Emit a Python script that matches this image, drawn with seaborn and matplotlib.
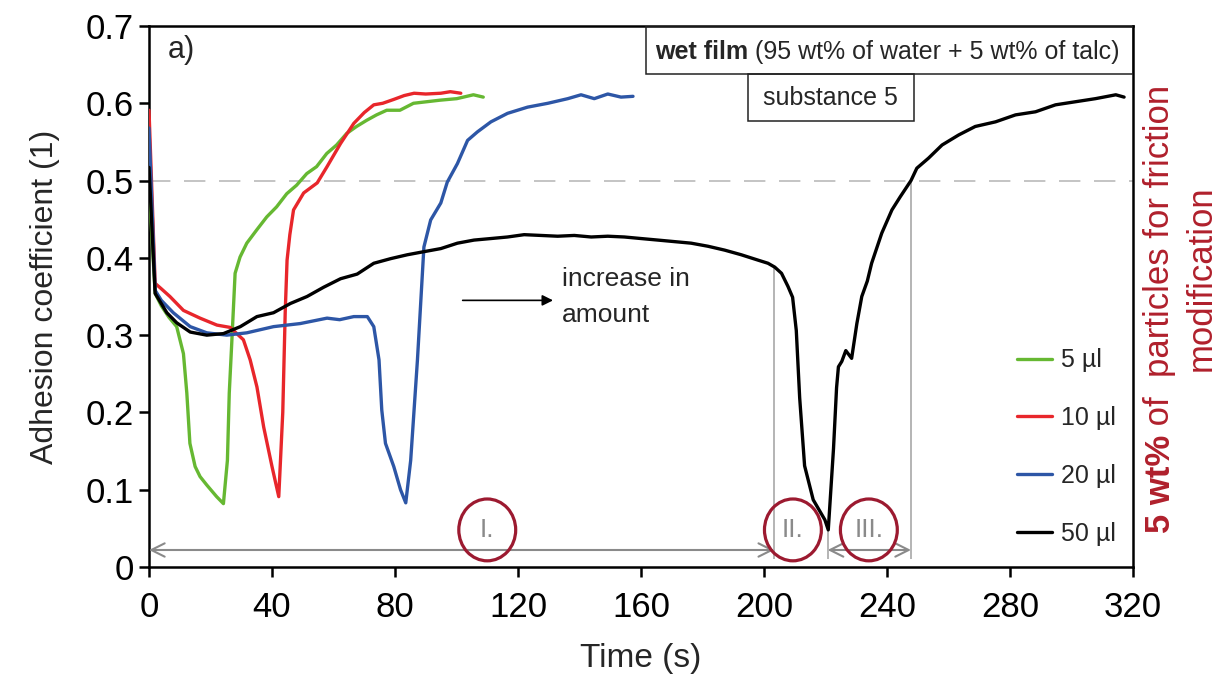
import numpy as np
import pandas as pd
import matplotlib
matplotlib.use("Agg")
import matplotlib.pyplot as plt
from matplotlib.patches import Ellipse, Rectangle
from matplotlib.text import Annotation
from matplotlib import font_manager
import seaborn as sns

# ---- measured friction curves: time (s) and adhesion coefficient (1) ----
t_5 = [0, 0.9, 2.0, 4.0, 6.5, 9.0, 11.2, 12.3, 13.3, 15.0, 16.6, 18.8, 22.0, 24.2,
       25.5, 26.1, 26.9, 28.0, 29.6, 31.8, 35.0, 38.3, 41.5, 44.8, 48.0, 51.3, 54.5,
       57.8, 61.0, 64.3, 67.5, 70.8, 74.0, 77.3, 81.6, 86.0, 90.3, 94.6, 100.1, 105.5, 108.7]
v_5 = [0.50, 0.43, 0.354, 0.338, 0.323, 0.311, 0.276, 0.225, 0.160, 0.130, 0.117, 0.106,
       0.091, 0.082, 0.138, 0.225, 0.289, 0.380, 0.401, 0.419, 0.436, 0.453, 0.466, 0.483,
       0.494, 0.509, 0.518, 0.535, 0.546, 0.561, 0.570, 0.578, 0.585, 0.591, 0.591, 0.600,
       0.602, 0.604, 0.606, 0.611, 0.608]

t_10 = [0, 2.0, 4.0, 6.8, 11.2, 16.6, 22.1, 26.4, 30.7, 32.9, 35.1, 37.3, 40.0, 42.2,
        43.5, 44.3, 44.9, 45.8, 47.0, 50.3, 54.7, 57.9, 62.3, 66.6, 70.0, 73.1, 76.0,
        79.6, 83.0, 86.2, 90.0, 94.9, 98.0, 101.4]
v_10 = [0.591, 0.367, 0.360, 0.350, 0.332, 0.322, 0.313, 0.310, 0.294, 0.268, 0.233, 0.181,
        0.130, 0.091, 0.200, 0.330, 0.397, 0.430, 0.462, 0.484, 0.497, 0.518, 0.548, 0.574,
        0.588, 0.598, 0.600, 0.605, 0.610, 0.613, 0.612, 0.613, 0.615, 0.613]

t_20 = [0, 2.0, 4.0, 7.9, 13.4, 18.8, 25.3, 31.8, 40.5, 49.2, 57.9, 62.0, 66.6, 71.0,
        73.1, 74.8, 75.7, 76.9, 79.6, 81.8, 83.5, 85.1, 87.3, 89.4, 91.6, 94.9, 97.0,
        100.3, 103.6, 106.8, 111.2, 116.6, 123.1, 129.7, 136.2, 140.5, 144.8, 149.2,
        153.5, 157.4]
v_20 = [0.568, 0.358, 0.345, 0.329, 0.311, 0.303, 0.300, 0.303, 0.311, 0.315, 0.322, 0.320,
        0.324, 0.324, 0.311, 0.268, 0.203, 0.160, 0.130, 0.100, 0.083, 0.138, 0.268, 0.414,
        0.449, 0.471, 0.498, 0.522, 0.552, 0.563, 0.576, 0.587, 0.595, 0.600, 0.606, 0.611,
        0.606, 0.612, 0.608, 0.609]

t_50 = [0, 2.0, 5.8, 9.0, 13.4, 18.8, 24.2, 29.7, 35.1, 40.5, 46.0, 51.4, 56.8, 62.3,
        67.7, 73.1, 78.6, 84.0, 89.4, 94.9, 100.3, 105.7, 111.2, 116.6, 122.0, 127.5,
        132.9, 138.3, 143.8, 149.2, 154.6, 160.0, 165.5, 170.9, 176.3, 181.8, 187.2,
        192.6, 198.1, 201.3, 203.5, 205.7, 207.8, 209.3, 210.5, 211.6, 213.2, 216.0,
        219.8, 220.9, 222.6, 223.6, 224.2, 225.3, 226.6, 228.5, 230.2, 231.8, 233.6,
        235.0, 238.3, 241.6, 244.3, 247.8, 249.7, 253.5, 257.9, 263.3, 268.7, 275.3,
        281.8, 288.3, 294.8, 301.3, 307.8, 314.4, 317.1]
v_50 = [0.517, 0.354, 0.329, 0.316, 0.304, 0.300, 0.302, 0.311, 0.324, 0.329, 0.341, 0.350,
        0.362, 0.373, 0.379, 0.393, 0.399, 0.404, 0.408, 0.412, 0.419, 0.423, 0.425, 0.427,
        0.430, 0.429, 0.428, 0.429, 0.427, 0.428, 0.427, 0.425, 0.423, 0.421, 0.419, 0.415,
        0.410, 0.404, 0.397, 0.393, 0.388, 0.380, 0.363, 0.349, 0.306, 0.219, 0.131, 0.087,
        0.061, 0.048, 0.153, 0.232, 0.259, 0.266, 0.280, 0.270, 0.315, 0.350, 0.370, 0.393,
        0.432, 0.462, 0.479, 0.500, 0.516, 0.529, 0.546, 0.559, 0.570, 0.576, 0.585, 0.589,
        0.598, 0.602, 0.606, 0.611, 0.608]

volumes = ["5 µl", "10 µl", "20 µl", "50 µl"]
colors = ["#66b832", "#e8262b", "#2d56a6", "#000000"]

# phase boundaries of the 50 µl run (s) and phase labels
phase_bounds = [203.3, 220.7, 247.8]
phase_labels = ["I.", "II.", "III."]
phase_label_t = [110.0, 209.4, 234.1]

x_ticks = [0, 40, 80, 120, 160, 200, 240, 280, 320]
y_ticks = [0, 0.1, 0.2, 0.3, 0.4, 0.5, 0.6, 0.7]
y_tick_labels = ["0", "0.1", "0.2", "0.3", "0.4", "0.5", "0.6", "0.7"]

# ---- long-form table for seaborn ----
series = [(t_5, v_5), (t_10, v_10), (t_20, v_20), (t_50, v_50)]
df = pd.concat(
    [pd.DataFrame({"Time": t, "Adhesion": v, "Volume": name})
     for (t, v), name in zip(series, volumes)],
    ignore_index=True,
)

sns.set_theme(style="white")


def pick_font():
    for fam in ["Liberation Sans Narrow", "Arial Narrow", "Liberation Sans", "DejaVu Sans"]:
        try:
            font_manager.findfont(fam, fallback_to_default=False)
            return fam
        except Exception:
            continue
    return "DejaVu Sans"


FONT = pick_font()
plt.rcParams["font.family"] = [FONT, "DejaVu Sans"]

DARK_RED = "#b0202c"
CIRCLE_RED = "#9c1a30"
GREY = "#8a8a8a"

fig = plt.figure(figsize=(12.26, 6.76), dpi=100)
ax = fig.add_axes([149 / 1226, 109 / 676, 984 / 1226, 541 / 676])

ax.axhline(0.5, color="#c4c4c4", lw=1.4, dashes=(11, 7), zorder=1)

sns.lineplot(data=df, x="Time", y="Adhesion", hue="Volume", hue_order=volumes,
             palette=colors, estimator=None, sort=False, linewidth=2.4, ax=ax,
             zorder=3)

ax.set_xlim(0, 320)
ax.set_ylim(0, 0.7)
ax.set_xticks(x_ticks)
ax.set_yticks(y_ticks)
ax.set_yticklabels(y_tick_labels)
ax.tick_params(axis="both", direction="out", length=7, width=1.8, labelsize=25,
               colors="black", bottom=True, left=True)
ax.tick_params(axis="x", pad=10)
ax.tick_params(axis="y", pad=4)
for sp in ax.spines.values():
    sp.set_color("black")
    sp.set_linewidth(1.8)
ax.set_xlabel("Time (s)", fontsize=24, labelpad=14)
ax.set_ylabel("Adhesion coefficient (1)", fontsize=23, labelpad=18)

# legend
handles, labels = ax.get_legend_handles_labels()
ax.legend(handles, labels, loc="upper left", bbox_to_anchor=(0.882, 0.404),
          frameon=False, fontsize=18, handlelength=1.4, handletextpad=0.35,
          labelspacing=1.35, borderaxespad=0, borderpad=0)

# phase markers of the 50 µl run
tops = np.interp(phase_bounds, t_50, v_50)
ax.vlines(phase_bounds, 0.01, tops, color="#a8a8a8", lw=1.2, zorder=2)
arrow_kw = dict(arrowstyle="<->", color=GREY, lw=1.5, mutation_scale=24,
                shrinkA=0, shrinkB=0)
ax.annotate("", xy=(0, 0.022), xytext=(phase_bounds[0], 0.022), arrowprops=arrow_kw)
ax.annotate("", xy=(phase_bounds[1], 0.022), xytext=(phase_bounds[2], 0.022),
            arrowprops=arrow_kw)
for lab, tx in zip(phase_labels, phase_label_t):
    ax.text(tx, 0.048, lab, ha="center", va="center", fontsize=19, color=GREY, zorder=4)
    ax.add_patch(Ellipse((tx, 0.048), width=18.5, height=0.08, fill=False,
                         edgecolor=CIRCLE_RED, lw=2.3, zorder=5))

# trend annotation
ax.annotate("", xy=(131.4, 0.345), xytext=(102.0, 0.345),
            arrowprops=dict(arrowstyle="-|>", color="black", lw=1.2,
                            mutation_scale=16, shrinkA=0, shrinkB=0))
ax.text(134.3, 0.388, "increase in\namount", ha="left", va="top", fontsize=19,
        linespacing=1.6)

ax.text(0.033, 0.955, "a)", transform=ax.transAxes, ha="center", va="center", fontsize=22)

# condition boxes
ax.add_patch(Rectangle((0.505, 0.911), 0.495, 0.089, transform=ax.transAxes,
                       fill=False, edgecolor="#222222", lw=1.1, zorder=6))
ax.add_patch(Rectangle((0.609, 0.824), 0.168, 0.087, transform=ax.transAxes,
                       fill=False, edgecolor="#222222", lw=1.1, zorder=6))
t_bold = ax.text(0.514, 0.952, "wet film", transform=ax.transAxes, ha="left",
                 va="center", fontsize=18, fontweight="bold")
ax.annotate(" (95 wt% of water + 5 wt% of talc)", xy=(1, 0.5), xycoords=t_bold,
            ha="left", va="center", fontsize=18)
ax.text(0.693, 0.867, "substance 5", transform=ax.transAxes, ha="center",
        va="center", fontsize=18)

# side caption
t_side = fig.text(1160 / 1226, (676 - 533) / 676, "5 wt%", rotation=90, ha="center",
                  va="bottom", fontsize=25, fontweight="bold", color=DARK_RED)
fig.add_artist(Annotation(
    " of  particles for friction", xy=(0.5, 1), xycoords=t_side, rotation=90,
    ha="center", va="bottom", fontsize=25, color=DARK_RED))
fig.text(1201 / 1226, (676 - 278) / 676, "modification", rotation=90, ha="center",
         va="center", fontsize=25, color=DARK_RED)

fig.savefig("out.png", dpi=100)
